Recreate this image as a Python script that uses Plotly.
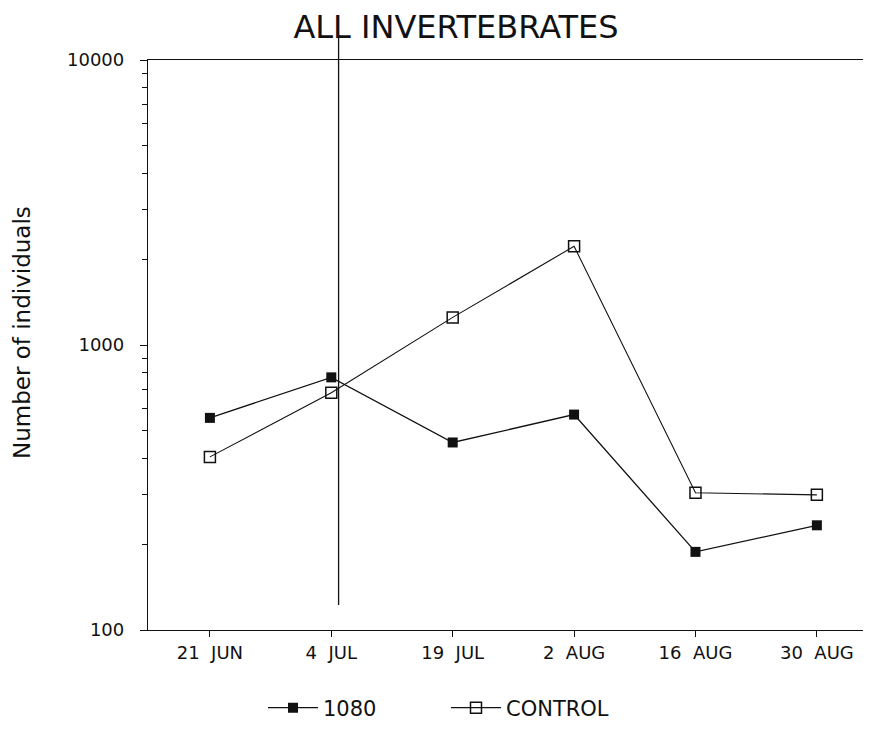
import plotly.graph_objects as go

# ---- data ----
dates = ["21 JUN", "4 JUL", "19 JUL", "2 AUG", "16 AUG", "30 AUG"]
tick_labels = ["21\u00a0\u00a0JUN", "4\u00a0\u00a0JUL", "19\u00a0\u00a0JUL",
               "2\u00a0\u00a0AUG", "16\u00a0\u00a0AUG", "30\u00a0\u00a0AUG"]
series_1080 = [555, 770, 455, 570, 188, 233]
series_control = [405, 680, 1250, 2220, 303, 298]
y_tickvals = [100, 1000, 10000]
y_ticktext = ["100", "1000", "10000"]
treatment_x = 1.06  # vertical marker line, just after 4 JUL

INK = "#111111"
FONT = "DejaVu Sans"

# the page body adds an 8px offset; size the figure so the plot lands where
# it sits in the reference
OFF = 8
W, H = 873 - OFF, 733 - OFF
L, T, R, B = 148 - OFF, 60 - OFF, 10, 103
PW = W - L - R
PH = H - T - B

minor_vals = [m * d for d in (100, 1000) for m in range(2, 10)]

fig = go.Figure()
fig.add_trace(go.Scatter(
    x=dates, y=series_1080, name="1080", mode="lines+markers",
    line=dict(color=INK, width=1.3),
    marker=dict(symbol="square", size=10, color=INK),
))
fig.add_trace(go.Scatter(
    x=dates, y=series_control, name="CONTROL", mode="lines+markers",
    line=dict(color=INK, width=1.1),
    marker=dict(symbol="square-open", size=11, color=INK, line=dict(width=1.5)),
))

fig.add_shape(type="line", xref="x", yref="paper",
              x0=treatment_x, x1=treatment_x,
              y0=(630 - 605) / PH, y1=(630 - 35) / PH,
              line=dict(color=INK, width=1.3))

fig.update_layout(
    width=W, height=H,
    margin=dict(l=L, r=R, t=T, b=B, autoexpand=False),
    paper_bgcolor="white", plot_bgcolor="white",
    font=dict(family=FONT, color=INK, size=19),
    title=dict(text="ALL INVERTEBRATES", x=(456 - 148) / PW, xref="paper",
               xanchor="center", y=1 - (27 - OFF) / H, yref="container",
               yanchor="middle",
               font=dict(size=32, family=FONT, color=INK)),
    showlegend=True,
    legend=dict(orientation="h", x=(263 - 148) / PW, xanchor="left",
                y=-(708 - 630) / PH, yanchor="middle",
                font=dict(size=21, family=FONT, color=INK), itemwidth=50,
                entrywidth=118, entrywidthmode="pixels",
                bgcolor="rgba(0,0,0,0)"),
    xaxis=dict(type="category", range=[-0.51, 5.38], automargin=False,
               tickmode="array", tickvals=dates, ticktext=tick_labels,
               showline=True, linecolor=INK, linewidth=1.3, mirror=True,
               ticks="outside", ticklen=6, tickcolor=INK,
               showgrid=False, zeroline=False,
               tickfont=dict(size=18, family=FONT, color=INK)),
    yaxis=dict(type="log", range=[2, 4], automargin=False,
               tickmode="array", tickvals=y_tickvals, ticktext=y_ticktext,
               showline=True, linecolor=INK, linewidth=1.3,
               ticks="outside", ticklen=7, tickcolor=INK, ticklabelstandoff=12,
               showgrid=False, zeroline=False,
               minor=dict(tickmode="array", tickvals=minor_vals, ticks="outside",
                          ticklen=5, tickcolor=INK, showgrid=False),
               tickfont=dict(size=18, family=FONT, color=INK)),
)

fig.add_annotation(text="Number of individuals", xref="paper", yref="paper",
                   x=(22 - 148) / PW, y=(630 - 333) / PH,
                   xanchor="center", yanchor="middle",
                   textangle=-90, showarrow=False,
                   font=dict(size=23, family=FONT, color=INK))

fig.write_html("out.html")
